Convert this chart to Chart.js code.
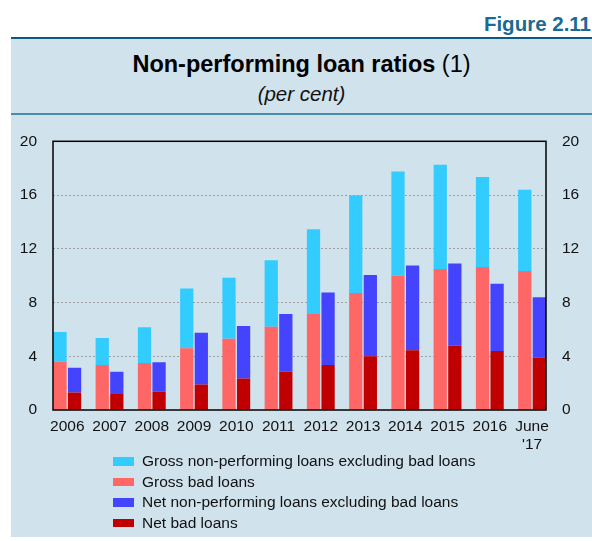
<!DOCTYPE html>
<html>
<head>
<meta charset="utf-8">
<script src="https://cdn.jsdelivr.net/npm/chart.js@4/dist/chart.umd.min.js"></script>
<style>
  body { margin: 0; width: 592px; height: 541px; background: #fff; position: relative; overflow: hidden;
         font-family: "Liberation Sans", Arial, Helvetica, sans-serif; }
  #fig { position: absolute; right: 1px; top: 12px; font-weight: bold; font-size: 20.5px; line-height: 24px; color: #1b6a93; }
  #panel { position: absolute; left: 11px; top: 37px; width: 581px; height: 498px; background: #d0e2ec; border-top: 2.5px solid #0d5a80; }
  #head { position: absolute; left: 0; top: 0; width: 581px; height: 74px; border-bottom: 2px solid #4b8cab; }
  #title { position: absolute; left: 0; width: 581px; top: 14px; text-align: center; font-size: 23.5px; line-height: 23px; color: #000; }
  #title b { font-weight: bold; }
  #sub { position: absolute; left: 0; width: 581px; top: 44px; text-align: center; font-size: 20.5px; line-height: 22px; font-style: italic; color: #111; }
  #wrap { position: absolute; left: 0; top: 116px; width: 592px; height: 339px; }
  #legend { position: absolute; left: 113px; top: 451px; font-size: 15.5px; color: #111; }
  .row { height: 20.6px; display: flex; align-items: center; }
  .sw { width: 21px; height: 8.5px; margin-right: 8px; }
</style>
</head>
<body>
<div id="fig">Figure 2.11</div>
<div id="panel">
  <div id="head">
    <div id="title"><b>Non-performing loan ratios</b> (1)</div>
    <div id="sub">(per cent)</div>
  </div>
</div>
<div id="wrap"><canvas id="c" width="592" height="339"></canvas></div>
<div id="legend"></div>
<script>
// years on the x axis
const categories = ['2006', '2007', '2008', '2009', '2010', '2011', '2012', '2013', '2014', '2015', '2016', ['June', "'17"]]

// stack 1: gross ratios (bad loans at the bottom, other NPLs on top)
const grossBadLoans = [3.6, 3.35, 3.5, 4.6, 5.3, 6.2, 7.15, 8.7, 10.0, 10.5, 10.65, 10.35]
const grossNplTotal = [5.8, 5.35, 6.15, 9.05, 9.85, 11.15, 13.45, 15.98, 17.75, 18.25, 17.35, 16.4]

// stack 2: net ratios
const netBadLoans = [1.3, 1.25, 1.35, 1.9, 2.35, 2.85, 3.35, 4.0, 4.45, 4.8, 4.4, 3.9]
const netNplTotal = [3.15, 2.85, 3.55, 5.75, 6.25, 7.15, 8.75, 10.05, 10.75, 10.9, 9.4, 8.4]

const yTicks = [0, 4, 8, 12, 16, 20]

const grossOther = grossNplTotal.map((v, i) => +(v - grossBadLoans[i]).toFixed(2))
const netOther = netNplTotal.map((v, i) => +(v - netBadLoans[i]).toFixed(2))

const seriesDefs = [
  { label: 'Gross non-performing loans excluding bad loans', data: grossOther, color: '#33ccff', stack: 'gross' },
  { label: 'Gross bad loans', data: grossBadLoans, color: '#ff6666', stack: 'gross' },
  { label: 'Net non-performing loans excluding bad loans', data: netOther, color: '#4444ff', stack: 'net' },
  { label: 'Net bad loans', data: netBadLoans, color: '#c00000', stack: 'net' }
]

// bottom pieces first so they stack from zero
const datasets = [seriesDefs[1], seriesDefs[0], seriesDefs[3], seriesDefs[2]].map((s) => ({
  label: s.label,
  data: s.data.map((v, i) => ({ x: i, y: v })),
  backgroundColor: s.color,
  borderWidth: 0,
  stack: s.stack,
  categoryPercentage: 0.69,
  barPercentage: 0.91
}))

const legendEl = document.getElementById('legend')
seriesDefs.forEach((s) => {
  const row = document.createElement('div')
  row.className = 'row'
  row.innerHTML = `<span class="sw" style="background:${s.color}"></span><span>${s.label}</span>`
  legendEl.appendChild(row)
})

const frame = {
  id: 'frame',
  afterDatasetsDraw(chart) {
    const { ctx, chartArea: a } = chart
    ctx.save()
    ctx.strokeStyle = '#000'
    ctx.lineWidth = 1.5
    ctx.strokeRect(a.left, a.top, a.right - a.left, a.bottom - a.top)
    ctx.restore()
  }
}

const fontFamily = '"Liberation Sans", Arial, sans-serif'

function yAxis(position, width) {
  return {
    type: 'linear',
    position,
    stacked: true,
    min: 0,
    max: 20,
    afterBuildTicks: (scale) => { scale.ticks = yTicks.map((value) => ({ value })) },
    afterFit: (scale) => { scale.width = width },
    grid: {
      display: position === 'left',
      drawTicks: false,
      color: (ctx) => (ctx.tick && (ctx.tick.value === 0 || ctx.tick.value === 20) ? 'rgba(0,0,0,0)' : '#a0a0a0'),
      lineWidth: 1
    },
    border: { display: false, dash: [2, 2] },
    ticks: { color: '#111', font: { family: fontFamily, size: 15.5 }, padding: 16 }
  }
}

new Chart(document.getElementById('c'), {
  type: 'bar',
  data: { datasets },
  plugins: [frame],
  options: {
    responsive: false,
    animation: false,
    layout: { padding: 0 },
    plugins: { legend: { display: false }, tooltip: { enabled: false } },
    scales: {
      x: {
        type: 'linear',
        offset: false,
        min: -0.338,
        max: 11.33,
        stacked: true,
        afterBuildTicks: (scale) => { scale.ticks = categories.map((_, i) => ({ value: i })) },
        afterFit: (scale) => { scale.height = 45 },
        grid: { display: false, drawTicks: false, offset: false },
        border: { display: false },
        ticks: {
          color: '#111',
          font: { family: fontFamily, size: 15.5 },
          padding: 7,
          maxRotation: 0,
          autoSkip: false,
          callback: (value) => categories[value]
        }
      },
      y: yAxis('left', 53),
      y2: yAxis('right', 46)
    }
  }
})
</script>
</body>
</html>
